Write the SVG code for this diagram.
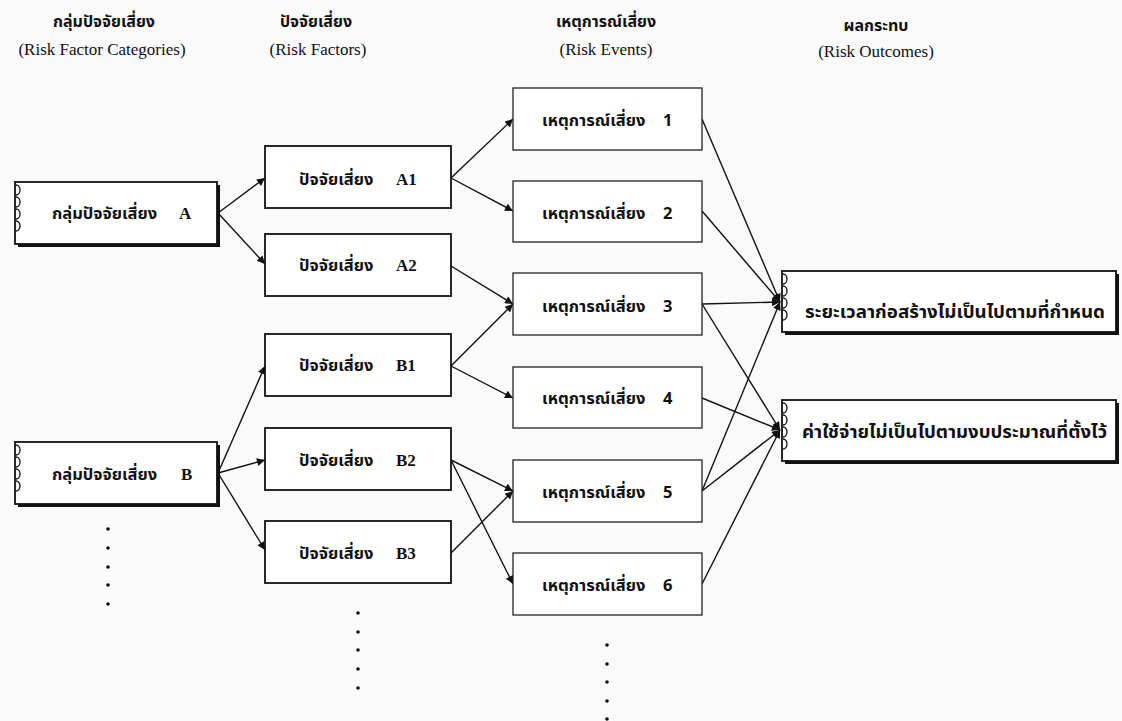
<svg xmlns="http://www.w3.org/2000/svg" width="1122" height="721" viewBox="0 0 1122 721">
<defs>
<marker id="ah" viewBox="0 0 10 10" refX="10" refY="5" markerWidth="11" markerHeight="8" orient="auto" markerUnits="userSpaceOnUse"><path d="M0,0 L10,5 L0,10 z" fill="#111"/></marker>
<g id="rings"><path d="M0,0 a4,5 0 1 1 0,10 M0,12 a4,5 0 1 1 0,10 M0,24 a4,5 0 1 1 0,10 M0,36 a4,5 0 1 1 0,10" fill="none" stroke="#111" stroke-width="1.3"/></g>
</defs>
<style>
.bg{fill:#fafafa}
.box{fill:#fff;stroke:#111;stroke-width:1.8}
.ebox{fill:#fff;stroke:#222;stroke-width:1.3}
.sh{fill:#111}
.th{font-family:"Noto Sans Thai","Noto Sans","DejaVu Sans",sans-serif;font-weight:bold;font-size:16.5px;fill:#111}
.ol{font-size:18px}
.hd{font-family:"Noto Sans Thai","Noto Sans","DejaVu Sans",sans-serif;font-weight:bold;font-size:16px;fill:#111;text-anchor:middle}
.en{font-family:"Liberation Serif",serif;font-size:17px;fill:#111;text-anchor:middle}
.lt{font-family:"Liberation Serif",serif;font-weight:bold;font-size:17px}
.c{stroke:#111;stroke-width:1.4;fill:none;marker-end:url(#ah)}
.dot{fill:#111}
</style>
<rect class="bg" x="0" y="0" width="1122" height="721"/>
<g id="headers">
<text class="hd" x="104" y="27">กลุ่มปัจจัยเสี่ยง</text>
<text class="en" x="102" y="55">(Risk Factor Categories)</text>
<text class="hd" x="316" y="27">ปัจจัยเสี่ยง</text>
<text class="en" x="318" y="55">(Risk Factors)</text>
<text class="hd" x="606" y="27">เหตุการณ์เสี่ยง</text>
<text class="en" x="606" y="55">(Risk Events)</text>
<text class="hd" x="876" y="31">ผลกระทบ</text>
<text class="en" x="876" y="57">(Risk Outcomes)</text>
</g>
<g id="connectors">
<line class="c" x1="218" y1="213" x2="265" y2="178"/>
<line class="c" x1="218" y1="213" x2="265" y2="264"/>
<line class="c" x1="218" y1="473" x2="265" y2="366"/>
<line class="c" x1="218" y1="473" x2="265" y2="460"/>
<line class="c" x1="218" y1="473" x2="265" y2="550"/>
<line class="c" x1="451" y1="178" x2="513" y2="119"/>
<line class="c" x1="451" y1="178" x2="513" y2="211"/>
<line class="c" x1="451" y1="266" x2="513" y2="304"/>
<line class="c" x1="451" y1="366" x2="513" y2="304"/>
<line class="c" x1="451" y1="366" x2="513" y2="398"/>
<line class="c" x1="451" y1="460" x2="513" y2="491"/>
<line class="c" x1="451" y1="460" x2="513" y2="584"/>
<line class="c" x1="451" y1="553" x2="513" y2="491"/>
<line class="c" x1="702" y1="119" x2="780" y2="302"/>
<line class="c" x1="702" y1="211" x2="780" y2="302"/>
<line class="c" x1="702" y1="304" x2="780" y2="302"/>
<line class="c" x1="702" y1="491" x2="780" y2="302"/>
<line class="c" x1="702" y1="304" x2="780" y2="430"/>
<line class="c" x1="702" y1="398" x2="780" y2="430"/>
<line class="c" x1="702" y1="491" x2="780" y2="430"/>
<line class="c" x1="702" y1="584" x2="780" y2="430"/>
</g>
<g id="catA">
<rect class="sh" x="18" y="185" width="202" height="62"/>
<rect class="box" x="15" y="182" width="202" height="62"/>
<use href="#rings" x="16" y="185"/>
<text class="th" x="52" y="219">กลุ่มปัจจัยเสี่ยง<tspan class="lt" x="179">A</tspan></text>
</g>
<g id="catB">
<rect class="sh" x="18" y="445" width="202" height="62"/>
<rect class="box" x="15" y="442" width="202" height="62"/>
<use href="#rings" x="16" y="445"/>
<text class="th" x="52" y="480">กลุ่มปัจจัยเสี่ยง<tspan class="lt" x="181">B</tspan></text>
</g>
<g id="factorA1"><rect class="box" x="265" y="146" width="186" height="62"/><text class="th" x="299" y="185">ปัจจัยเสี่ยง<tspan class="lt" x="396">A1</tspan></text></g>
<g id="factorA2"><rect class="box" x="265" y="234" width="186" height="62"/><text class="th" x="299" y="271">ปัจจัยเสี่ยง<tspan class="lt" x="396">A2</tspan></text></g>
<g id="factorB1"><rect class="box" x="265" y="334" width="186" height="62"/><text class="th" x="299" y="371">ปัจจัยเสี่ยง<tspan class="lt" x="396">B1</tspan></text></g>
<g id="factorB2"><rect class="box" x="265" y="428" width="186" height="62"/><text class="th" x="299" y="466">ปัจจัยเสี่ยง<tspan class="lt" x="396">B2</tspan></text></g>
<g id="factorB3"><rect class="box" x="265" y="521" width="186" height="62"/><text class="th" x="299" y="559">ปัจจัยเสี่ยง<tspan class="lt" x="396">B3</tspan></text></g>
<g id="event1"><rect class="ebox" x="513" y="88" width="189" height="62"/><text class="th" x="542" y="126">เหตุการณ์เสี่ยง<tspan x="663">1</tspan></text></g>
<g id="event2"><rect class="ebox" x="513" y="181" width="189" height="61"/><text class="th" x="542" y="219">เหตุการณ์เสี่ยง<tspan x="663">2</tspan></text></g>
<g id="event3"><rect class="ebox" x="513" y="273" width="189" height="62"/><text class="th" x="542" y="312">เหตุการณ์เสี่ยง<tspan x="663">3</tspan></text></g>
<g id="event4"><rect class="ebox" x="513" y="367" width="189" height="61"/><text class="th" x="542" y="404">เหตุการณ์เสี่ยง<tspan x="663">4</tspan></text></g>
<g id="event5"><rect class="ebox" x="513" y="460" width="189" height="62"/><text class="th" x="542" y="498">เหตุการณ์เสี่ยง<tspan x="663">5</tspan></text></g>
<g id="event6"><rect class="ebox" x="513" y="553" width="189" height="62"/><text class="th" x="542" y="591">เหตุการณ์เสี่ยง<tspan x="663">6</tspan></text></g>
<g id="outcome1">
<rect class="sh" x="785" y="274" width="334" height="61"/>
<rect class="box" x="782" y="271" width="334" height="61"/>
<use href="#rings" x="783" y="274"/>
<text class="th ol" x="805" y="318" textLength="300" lengthAdjust="spacingAndGlyphs">ระยะเวลาก่อสร้างไม่เป็นไปตามที่กำหนด</text>
</g>
<g id="outcome2">
<rect class="sh" x="785" y="403" width="334" height="61"/>
<rect class="box" x="782" y="400" width="334" height="61"/>
<use href="#rings" x="783" y="403"/>
<text class="th ol" x="802" y="438" textLength="305" lengthAdjust="spacingAndGlyphs">ค่าใช้จ่ายไม่เป็นไปตามงบประมาณที่ตั้งไว้</text>
</g>
<g id="dots">
<circle class="dot" cx="108" cy="529" r="1.8"/><circle class="dot" cx="108" cy="548" r="1.8"/><circle class="dot" cx="108" cy="567" r="1.8"/><circle class="dot" cx="108" cy="585" r="1.8"/><circle class="dot" cx="108" cy="604" r="1.8"/>
<circle class="dot" cx="358" cy="613" r="1.8"/><circle class="dot" cx="358" cy="632" r="1.8"/><circle class="dot" cx="358" cy="650" r="1.8"/><circle class="dot" cx="358" cy="669" r="1.8"/><circle class="dot" cx="358" cy="688" r="1.8"/>
<circle class="dot" cx="607" cy="645" r="1.8"/><circle class="dot" cx="607" cy="664" r="1.8"/><circle class="dot" cx="607" cy="682" r="1.8"/><circle class="dot" cx="607" cy="701" r="1.8"/><circle class="dot" cx="607" cy="719" r="1.8"/>
</g>
</svg>
